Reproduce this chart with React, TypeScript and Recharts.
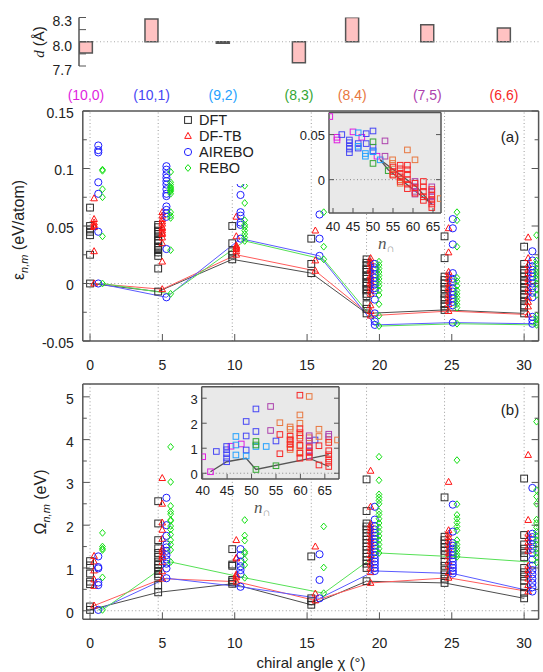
import React from "react";
import {
  ComposedChart,
  Scatter,
  Line,
  Bar,
  XAxis,
  YAxis,
  ReferenceLine,
  CartesianGrid,
  Legend,
} from "recharts";

const FONT = "'Liberation Sans', Arial, Helvetica, sans-serif";

// tubes, in order of chiral angle
const chiralities = ["(10,0)", "(10,1)", "(9,2)", "(8,3)", "(8,4)", "(7,5)", "(6,6)"];
const chiralAngles = [0, 4.71, 9.83, 15.29, 19.11, 24.5, 30];
const chiralColors = ["#e01ee0", "#4646f5", "#24a2ff", "#34a634", "#e8773f", "#ad42ad", "#f72828"];
const diameters = [7.86, 8.28, 7.98, 7.74, 8.3, 8.21, 8.17];

const methods = ["DFT", "DF-TB", "AIREBO", "REBO"];
const methodColors = ["#2b2b2b", "#ff1414", "#2020ff", "#14e014"];
const lineColors = ["#4d4d4d", "#ff5a5a", "#5a5aff", "#55e055"];
const methodShift = [0, 0.28, 0.57, 0.86];

const angleTicks = [0, 5, 10, 15, 20, 25, 30];
const epsTicks = [-0.05, -0.025, 0, 0.025, 0.05, 0.075, 0.1, 0.125, 0.15];
const omegaTicks = [0, 0.5, 1, 1.5, 2, 2.5, 3, 3.5, 4, 4.5, 5];
const dTicks = [7.7, 7.85, 8, 8.15, 8.3];
const dLabels = [7.7, 8, 8.3];
const nTicks = [40, 45, 50, 55, 60, 65];
const insetEpsTicks = [0, 0.05];
const insetOmegaTicks = [0, 1, 2, 3];

// (a) energies per tube, eV/atom
const epsDFT = [
  [0.066, 0.05, 0.047, 0.045, 0.042, 0.025, 0.0],
  [0.051, 0.049, 0.046, 0.045, 0.043, 0.041, 0.038, 0.037, 0.035, 0.032, 0.031, 0.029, 0.027, 0.024, 0.013, -0.007],
  [0.05, 0.035, 0.028, 0.025, 0.021],
  [0.039, 0.017, 0.009],
  [0.021, 0.018, 0.016, 0.013, 0.012, 0.01, 0.007, 0.006, 0.004, 0.001, 0.0, -0.002, -0.005, -0.006, -0.009, -0.011, -0.018, -0.022, -0.026],
  [0.041, 0.022, 0.006, 0.003, 0.0, -0.003, -0.005, -0.009, -0.012, -0.014, -0.018, -0.02, -0.023],
  [0.032, 0.017, 0.012, 0.009, 0.006, 0.002, 0.0, -0.003, -0.006, -0.01, -0.012, -0.015, -0.019, -0.021, -0.026],
];
const epsDFTB = [
  [0.074, 0.056, 0.053, 0.051, 0.05, 0.049, 0.028, 0.0],
  [0.062, 0.059, 0.056, 0.054, 0.052, 0.049, 0.048, 0.046, 0.044, 0.043, 0.04, 0.035, 0.019, -0.005],
  [0.058, 0.041, 0.033, 0.032, 0.031, 0.03, 0.028, 0.025],
  [0.046, 0.02, 0.011],
  [0.022, 0.019, 0.017, 0.013, 0.011, 0.007, 0.005, 0.002, 0.0, -0.003, -0.006, -0.009, -0.019, -0.024, -0.028],
  [0.048, 0.027, 0.01, 0.007, 0.004, 0.0, -0.003, -0.005, -0.009, -0.012, -0.015, -0.018, -0.024],
  [0.04, 0.022, 0.016, 0.012, 0.009, 0.004, 0.001, -0.004, -0.007, -0.012, -0.016, -0.02, -0.027],
];
const epsAIREBO = [
  [0.12, 0.116, 0.114, 0.088, 0.078, 0.045, 0.0],
  [0.102, 0.099, 0.095, 0.092, 0.089, 0.086, 0.082, 0.078, 0.076, 0.067, 0.064, 0.061, 0.058, 0.03, -0.012],
  [0.087, 0.077, 0.062, 0.059, 0.053, 0.051, 0.039],
  [0.06, 0.039, 0.024],
  [0.017, 0.014, 0.012, 0.008, 0.005, 0.002, -0.001, -0.004, -0.006, -0.014, -0.026, -0.033, -0.036],
  [0.056, 0.048, 0.034, 0.009, 0.004, 0.001, -0.004, -0.007, -0.01, -0.013, -0.016, -0.019, -0.034],
  [0.028, 0.02, 0.015, 0.012, 0.009, 0.006, 0.003, 0.0, -0.004, -0.008, -0.012, -0.029, -0.032, -0.035],
];
const epsREBO = [
  [0.099, 0.098, 0.082, 0.075, 0.041, 0.0],
  [0.097, 0.088, 0.086, 0.084, 0.083, 0.082, 0.081, 0.08, 0.078, 0.062, 0.059, 0.057, 0.029, -0.009],
  [0.085, 0.07, 0.055, 0.051, 0.049, 0.046, 0.043, 0.04, 0.037],
  [0.062, 0.032, 0.021],
  [0.019, 0.016, 0.013, 0.01, 0.007, 0.004, 0.001, -0.002, -0.006, -0.01, -0.018, -0.028, -0.037],
  [0.062, 0.055, 0.032, 0.005, 0.002, -0.002, -0.006, -0.009, -0.012, -0.015, -0.018, -0.021, -0.035],
  [0.042, 0.02, 0.017, 0.013, 0.01, 0.007, 0.004, 0.0, -0.005, -0.01, -0.028, -0.031, -0.034, -0.036],
];

// (b) Omega per tube, eV
const omDFT = [
  [1.16, 1.06, 0.87, 0.68, 0.62, 0.1, 0.02],
  [2.56, 2.04, 1.65, 1.46, 1.35, 1.26, 1.15, 1.07, 1.0, 0.93, 0.86, 0.8, 0.6, 0.43],
  [1.44, 1.08, 1.05, 0.72, 0.68, 0.63],
  [1.27, 0.29, 0.22, 0.14],
  [3.07, 2.33, 2.04, 1.97, 1.9, 1.82, 1.74, 1.66, 1.58, 1.5, 1.42, 1.34, 1.26, 1.18, 1.1, 1.0, 0.69],
  [2.65, 1.73, 1.65, 1.57, 1.48, 1.4, 1.3, 1.15, 1.05, 0.95, 0.85, 0.75, 0.65],
  [3.09, 1.77, 1.55, 1.45, 1.35, 1.25, 1.0, 0.9, 0.8, 0.7, 0.55, 0.42, 0.29],
];
const omDFTB = [
  [1.28, 1.15, 0.94, 0.73, 0.58, 0.12],
  [3.1, 2.5, 2.06, 1.89, 1.68, 1.45, 1.38, 1.3, 1.25, 1.14, 0.92, 0.75],
  [1.65, 1.24, 1.22, 0.85, 0.82, 0.78, 0.68],
  [1.5, 0.4, 0.24],
  [3.27, 2.43, 2.02, 1.95, 1.88, 1.8, 1.7, 1.62, 1.55, 1.48, 1.4, 1.3, 1.2, 1.1, 1.0, 0.9, 0.65],
  [3.01, 1.88, 1.8, 1.72, 1.64, 1.55, 1.45, 1.35, 1.27, 1.15, 1.05, 0.9, 0.77],
  [3.64, 2.12, 1.8, 1.7, 1.6, 1.5, 1.4, 1.05, 0.95, 0.85, 0.75, 0.6, 0.45],
];
const omAIREBO = [
  [1.27, 1.02, 0.99, 0.66, 0.6, 0.02],
  [2.64, 2.0, 1.75, 1.55, 1.48, 1.4, 1.3, 1.2, 1.1, 0.99, 0.76],
  [1.44, 1.3, 1.15, 1.04, 0.95, 0.86, 0.56],
  [1.32, 0.72, 0.29],
  [2.43, 2.13, 1.98, 1.9, 1.82, 1.75, 1.68, 1.6, 1.52, 1.45, 1.38, 1.3, 1.22, 1.15, 1.08, 1.0, 0.93],
  [2.48, 1.85, 1.58, 1.52, 1.45, 1.38, 1.3, 1.22, 1.15, 1.07, 1.0, 0.93, 0.87],
  [2.87, 1.8, 1.72, 1.65, 1.55, 1.45, 1.35, 1.2, 1.05, 0.95, 0.85, 0.75, 0.65, 0.55, 0.45],
];
const omREBO = [
  [1.82, 1.5, 1.45, 1.42, 0.78, 0.02],
  [3.83, 3.01, 2.45, 2.32, 2.26, 2.12, 2.1, 1.98, 1.9, 1.78, 1.65, 1.55, 1.42, 1.14],
  [2.12, 1.76, 1.64, 1.38, 1.34, 1.2, 1.07, 0.77],
  [1.97, 1.01, 0.41],
  [3.6, 3.05, 2.72, 2.65, 2.58, 2.5, 2.32, 2.25, 2.15, 2.05, 1.95, 1.85, 1.75, 1.65, 1.55, 1.45, 1.35],
  [3.52, 2.49, 2.24, 2.15, 2.06, 1.97, 1.88, 1.65, 1.55, 1.47, 1.4, 1.32, 1.26],
  [4.42, 2.82, 2.67, 2.5, 2.13, 2.05, 1.95, 1.85, 1.75, 1.65, 1.55, 1.45, 1.35, 1.25, 1.13],
];

// insets: [n, value] per tube, same order as chiralities
const insetEps: [number, number][][] = [
  [[39.2, 0.07], [41, 0.047], [41, 0.044], [45, 0.053], [47.2, 0.047], [51, 0.026]],
  [[42.2, 0.05], [44.1, 0.044], [44.1, 0.041], [44.1, 0.037], [44.1, 0.034], [44.1, 0.03], [46.3, 0.04], [46.3, 0.035], [48.3, 0.051], [48.3, 0.04], [50, 0.054], [50, 0.036], [50, 0.032]],
  [[46.3, 0.052], [46.3, 0.037], [48.1, 0.029], [48.1, 0.026], [50, 0.031], [51.8, 0.022]],
  [[50, 0.042], [50, 0.018], [53.8, 0.01]],
  [[54.9, 0.022], [54.9, 0.018], [54.9, 0.006], [56.8, 0.0], [56.8, -0.004], [58.6, 0.033], [60.5, 0.022], [66.8, -0.021]],
  [[53, 0.043], [53, 0.026], [60.5, -0.002], [60.5, -0.008], [60.5, -0.013], [60.5, -0.016], [64.7, -0.008], [64.7, -0.013], [64.7, -0.019], [64.7, -0.024]],
  [[55, 0.014], [55, 0.009], [55, 0.005], [56.8, 0.016], [56.8, 0.012], [56.8, 0.007], [56.8, 0.003], [56.8, -0.002], [58.6, 0.016], [58.6, 0.011], [58.6, 0.006], [58.6, 0.0], [58.6, -0.005], [58.6, -0.01], [60.5, -0.004], [60.5, -0.009], [60.5, -0.015], [62.6, -0.002], [62.6, -0.008], [62.6, -0.013], [62.6, -0.019], [62.6, -0.023], [64.7, -0.011], [64.7, -0.017], [64.7, -0.022], [64.7, -0.027], [64.7, -0.031]],
];
const insetEpsUpper: [number, number][] = [[51.8, 0.022], [60.9, -0.008], [64.7, -0.027]];
const insetEpsLower: [number, number][] = [[51.8, 0.022], [53.8, 0.011], [64.7, -0.027]];

const insetOmega: [number, number][][] = [
  [[40, 0.66], [41.6, 0.06], [45.8, 1.08], [47.9, 1.17]],
  [[42.8, 0.87], [44.9, 1.07], [44.9, 0.94], [44.9, 0.78], [44.9, 0.61], [44.9, 0.46], [48.9, 2.07], [48.9, 1.49], [48.9, 0.93], [50.9, 2.57], [50.9, 1.67], [55, 1.29], [63, 1.33]],
  [[46.8, 1.47], [46.8, 1.13], [46.8, 0.73], [48.9, 0.69], [50.9, 1.07], [53, 1.07]],
  [[50.9, 1.27], [50.9, 1.13], [50.9, 0.15], [55, 0.3]],
  [[55.8, 2.02], [57.9, 1.85], [57.9, 1.76], [57.9, 1.35], [57.9, 1.15], [57.9, 0.95], [59.9, 2.33], [59.9, 2.0], [59.9, 1.5], [59.9, 1.1], [59.9, 0.86], [61.8, 3.07], [61.8, 1.42], [61.8, 1.28], [63.8, 1.76], [63.8, 1.47], [65.8, 1.35], [67.6, 1.33]],
  [[53.9, 2.67], [53.9, 1.71], [61.8, 1.5], [61.8, 1.3], [61.8, 1.1], [61.8, 0.9], [61.8, 0.7], [65.8, 1.56], [65.8, 1.47]],
  [[55.8, 1.55], [55.8, 0.78], [57.9, 1.48], [57.9, 1.32], [57.9, 1.17], [57.9, 1.03], [59.9, 3.12], [59.9, 1.78], [59.9, 1.62], [59.9, 1.4], [59.9, 1.12], [59.9, 0.8], [59.9, 0.6], [61.8, 1.02], [61.8, 0.83], [61.8, 0.64], [63.8, 1.1], [63.8, 0.33], [65.8, 1.23], [65.8, 0.9], [65.8, 0.74], [65.8, 0.57], [65.8, 0.44], [65.8, 0.27]],
];
const insetOmegaMain: [number, number][] = [[41.6, 0.06], [44.9, 0.46], [48.9, 0.6], [50.9, 0.15], [65.8, 0.74]];
const insetOmegaBranch: [number, number][] = [[61.8, 0.6], [65.8, 0.27]];

const AXIS_LINE = { stroke: "#555", strokeWidth: 1.5 };
const DOTTED = { stroke: "#9c9c9c", strokeDasharray: "1 2.5", strokeWidth: 1 };

const near = (a: number, b: number) => Math.abs(a - b) < 1e-6;
const onStep = (step: number) => (v: number) => near(v / step, Math.round(v / step));

function points(sets: number[][], m: number) {
  return sets.flatMap((vals, i) => vals.map((y) => ({ x: chiralAngles[i] + methodShift[m], y })));
}

// the lines join the lowest value of each tube
function minima(sets: number[][], m: number) {
  return sets.map((vals, i) => ({ x: chiralAngles[i] + methodShift[m], y: Math.min(...vals) }));
}

const asXY = (pts: [number, number][]) => pts.map(([x, y]) => ({ x, y }));

type Side = "left" | "right" | "top" | "bottom";
interface TickOpts {
  len?: (v: number) => number;
  label?: (v: number) => string | null;
  gap?: number;
  shift?: number;
  fontSize?: number;
}

// gnuplot style: ticks point into the frame
function tickRenderer(side: Side, o: TickOpts = {}) {
  const fs = o.fontSize ?? 14;
  const gap = o.gap ?? 9;
  return (p: any) => {
    const v = Number(p.payload.value);
    const len = o.len ? o.len(v) : 7;
    const { x, y } = p;
    let x2 = x;
    let y2 = y;
    if (side === "left") x2 = x + len;
    if (side === "right") x2 = x - len;
    if (side === "top") y2 = y + len;
    if (side === "bottom") y2 = y - len;
    const text = o.label ? o.label(v) : null;
    let tx = x;
    let ty = y;
    let anchor: "end" | "middle" = "middle";
    if (side === "left") {
      tx = x - gap;
      ty = y + (o.shift ?? 0) + fs * 0.35;
      anchor = "end";
    }
    if (side === "bottom") ty = y + gap + fs * 0.35;
    return (
      <g>
        <line x1={x} y1={y} x2={x2} y2={y2} stroke="#555" strokeWidth={1} />
        {text !== null && (
          <text x={tx} y={ty} textAnchor={anchor} fontSize={fs} fill="#222" fontFamily={FONT}>
            {text}
          </text>
        )}
      </g>
    );
  };
}

function Marker({ kind, cx, cy }: { kind: number; cx: number; cy: number }) {
  const c = methodColors[kind];
  if (kind === 0)
    return <rect x={cx - 3.4} y={cy - 3.4} width={6.8} height={6.8} fill="none" stroke={c} strokeWidth={1} />;
  if (kind === 1)
    return (
      <polygon
        points={`${cx},${cy - 3.6} ${cx + 3.3},${cy + 2.4} ${cx - 3.3},${cy + 2.4}`}
        fill="none"
        stroke={c}
        strokeWidth={1}
      />
    );
  if (kind === 2) return <circle cx={cx} cy={cy} r={3.6} fill="none" stroke={c} strokeWidth={1} />;
  return (
    <polygon
      points={`${cx},${cy - 3.4} ${cx + 2.9},${cy} ${cx},${cy + 3.4} ${cx - 2.9},${cy}`}
      fill="none"
      stroke={c}
      strokeWidth={1}
    />
  );
}

const markerShape = (m: number) => (p: any) => <Marker kind={m} cx={p.cx} cy={p.cy} />;

const squareShape = (color: string) => (p: any) =>
  <rect x={p.cx - 2.8} y={p.cy - 2.8} width={5.6} height={5.6} fill="none" stroke={color} strokeWidth={1} />;

function MethodLegend() {
  return (
    <svg width={76} height={72} style={{ display: "block" }}>
      {methods.map((m, i) => (
        <g key={m}>
          <Marker kind={i} cx={6} cy={8 + i * 16} />
          <text x={17} y={13 + i * 16} fontSize={14.5} fill="#222" fontFamily={FONT}>
            {m}
          </text>
        </g>
      ))}
    </svg>
  );
}

function ChiralityTick(p: any) {
  const i = chiralAngles.findIndex((a) => near(a, Number(p.payload.value)));
  return (
    <text x={p.x} y={p.y + 34} textAnchor="middle" fontSize={14} fill={chiralColors[i]} fontFamily={FONT}>
      {chiralities[i]}
    </text>
  );
}

const dRows = chiralAngles.map((angle, i) => ({ angle, d: diameters[i] }));

function DiameterChart() {
  return (
    <div style={{ position: "absolute", left: 0, top: 0, width: 543, height: 110 }}>
      <ComposedChart width={543} height={110} data={dRows} margin={{ top: 17.5, right: 4.2, bottom: 0, left: 0 }}>
        <XAxis
          dataKey="angle"
          type="number"
          domain={[-0.5, 32.5]}
          allowDataOverflow
          ticks={chiralAngles}
          interval={0}
          height={44}
          tickSize={0}
          tickMargin={0}
          axisLine={false}
          tickLine={false}
          tick={ChiralityTick}
        />
        <YAxis
          type="number"
          domain={[7.7, 8.3]}
          allowDataOverflow
          ticks={dTicks}
          interval={0}
          width={79}
          tickSize={0}
          tickMargin={0}
          tickLine={false}
          axisLine={AXIS_LINE}
          tick={tickRenderer("left", {
            gap: 7,
            shift: 4,
            label: (v) => (dLabels.some((t) => near(t, v)) ? v.toFixed(1) : null),
          })}
        />
        <ReferenceLine y={8} {...DOTTED} stroke="#aaa" />
        <Bar
          dataKey={(r: any) => [Math.min(8, r.d), Math.max(8, r.d)]}
          barSize={13}
          fill="#ffc2c2"
          stroke="#555"
          strokeWidth={1.5}
          isAnimationActive={false}
        />
      </ComposedChart>
    </div>
  );
}

interface PanelProps {
  top: number;
  height: number;
  padTop: number;
  padBottom: number;
  yDomain: [number, number];
  yTicks: number[];
  yMajor: (v: number) => boolean;
  sets: number[][][];
  children?: React.ReactNode;
}

const X_DOMAIN: [number, number] = [-0.5, 31];

function Panel({ top, height, padTop, padBottom, yDomain, yTicks, yMajor, sets, children }: PanelProps) {
  const yLen = (v: number) => (yMajor(v) ? 7 : 4);
  return (
    <div style={{ position: "absolute", left: 0, top, width: 543, height }}>
      <ComposedChart width={543} height={height} margin={{ top: 0, right: 0, bottom: 0, left: 0 }}>
        <XAxis
          dataKey="x"
          type="number"
          domain={X_DOMAIN}
          allowDataOverflow
          ticks={angleTicks}
          interval={0}
          height={padBottom}
          tickSize={0}
          tickMargin={0}
          tickLine={false}
          axisLine={AXIS_LINE}
          tick={tickRenderer("bottom", { gap: 24, label: (v) => String(v) })}
        />
        <XAxis
          xAxisId="top"
          orientation="top"
          type="number"
          domain={X_DOMAIN}
          allowDataOverflow
          ticks={angleTicks}
          interval={0}
          height={padTop}
          tickSize={0}
          tickMargin={0}
          tickLine={false}
          axisLine={AXIS_LINE}
          tick={tickRenderer("top")}
        />
        <YAxis
          dataKey="y"
          type="number"
          domain={yDomain}
          allowDataOverflow
          ticks={yTicks}
          interval={0}
          width={82.8}
          tickSize={0}
          tickMargin={0}
          tickLine={false}
          axisLine={AXIS_LINE}
          tick={tickRenderer("left", { len: yLen, shift: 2, label: (v) => (yMajor(v) ? String(v) : null) })}
        />
        <YAxis
          yAxisId="right"
          orientation="right"
          type="number"
          domain={yDomain}
          allowDataOverflow
          ticks={yTicks}
          interval={0}
          width={4.4}
          tickSize={0}
          tickMargin={0}
          tickLine={false}
          axisLine={AXIS_LINE}
          tick={tickRenderer("right", { len: yLen })}
        />
        {chiralAngles.map((a) => (
          <ReferenceLine key={a} x={a} {...DOTTED} />
        ))}
        <ReferenceLine y={0} {...DOTTED} />
        {methods.map((m, i) => (
          <Line
            key={"l" + m}
            data={minima(sets[i], i)}
            dataKey="y"
            type="linear"
            stroke={lineColors[i]}
            strokeWidth={1}
            dot={false}
            isAnimationActive={false}
          />
        ))}
        {methods.map((m, i) => (
          <Scatter key={"s" + m} data={points(sets[i], i)} shape={markerShape(i)} isAnimationActive={false} />
        ))}
        {children}
      </ComposedChart>
    </div>
  );
}

interface InsetProps {
  left: number;
  top: number;
  width: number;
  height: number;
  axisLeft: number;
  axisRight: number;
  axisTop: number;
  axisBottom: number;
  xDomain: [number, number];
  yDomain: [number, number];
  yTicks: number[];
  xGap: number;
  pts: [number, number][][];
  lines: [number, number][][];
}

function Inset(p: InsetProps) {
  const small = { fontSize: 13, len: () => 5 };
  return (
    <div style={{ position: "absolute", left: p.left, top: p.top, width: p.width, height: p.height }}>
      <ComposedChart width={p.width} height={p.height} margin={{ top: 0, right: 0, bottom: 0, left: 0 }}>
        <CartesianGrid fill="#e9e9e9" horizontal={false} vertical={false} stroke="none" />
        <XAxis
          dataKey="x"
          type="number"
          domain={p.xDomain}
          allowDataOverflow
          ticks={nTicks}
          interval={0}
          height={p.axisBottom}
          tickSize={0}
          tickMargin={0}
          tickLine={false}
          axisLine={AXIS_LINE}
          tick={tickRenderer("bottom", { ...small, gap: p.xGap, label: (v) => String(v) })}
        />
        <XAxis
          xAxisId="top"
          orientation="top"
          type="number"
          domain={p.xDomain}
          allowDataOverflow
          ticks={nTicks}
          interval={0}
          height={p.axisTop}
          tickSize={0}
          tickMargin={0}
          tickLine={false}
          axisLine={AXIS_LINE}
          tick={tickRenderer("top", small)}
        />
        <YAxis
          dataKey="y"
          type="number"
          domain={p.yDomain}
          allowDataOverflow
          ticks={p.yTicks}
          interval={0}
          width={p.axisLeft}
          tickSize={0}
          tickMargin={0}
          tickLine={false}
          axisLine={AXIS_LINE}
          tick={tickRenderer("left", { ...small, gap: 4, shift: 1, label: (v) => String(v) })}
        />
        <YAxis
          yAxisId="right"
          orientation="right"
          type="number"
          domain={p.yDomain}
          allowDataOverflow
          ticks={p.yTicks}
          interval={0}
          width={p.axisRight}
          tickSize={0}
          tickMargin={0}
          tickLine={false}
          axisLine={AXIS_LINE}
          tick={tickRenderer("right", small)}
        />
        <ReferenceLine y={0} {...DOTTED} stroke="#888" />
        {p.pts.map((set, i) => (
          <Scatter
            key={chiralities[i]}
            data={asXY(set)}
            shape={squareShape(chiralColors[i])}
            isAnimationActive={false}
          />
        ))}
        {p.lines.map((l, i) => (
          <Line
            key={"line" + i}
            data={asXY(l)}
            dataKey="y"
            type="linear"
            stroke="#555"
            strokeWidth={1.3}
            dot={false}
            isAnimationActive={false}
          />
        ))}
      </ComposedChart>
    </div>
  );
}

function Labels() {
  const t = { fontFamily: FONT, fill: "#222" };
  return (
    <svg
      width={543}
      height={672}
      style={{ position: "absolute", left: 0, top: 0, pointerEvents: "none" }}
    >
      <text transform="translate(44,42) rotate(-90)" textAnchor="middle" fontSize={15} {...t}>
        <tspan fontStyle="italic" fontFamily="'Liberation Serif', serif">d</tspan> (Å)
      </text>
      <text transform="translate(24,230) rotate(-90)" textAnchor="middle" fontSize={16} {...t}>
        ε
        <tspan fontSize={11} fontStyle="italic" dy={4}>
          n,m
        </tspan>
        <tspan dy={-4}> (eV/atom)</tspan>
      </text>
      <text transform="translate(46,502) rotate(-90)" textAnchor="middle" fontSize={16} {...t}>
        Ω
        <tspan fontSize={11} fontStyle="italic" dy={4}>
          n,m
        </tspan>
        <tspan dy={-4}> (eV)</tspan>
      </text>
      <text x={311} y={668} textAnchor="middle" fontSize={15} {...t}>
        chiral angle χ (°)
      </text>
      <text x={510} y={142} textAnchor="middle" fontSize={15} {...t}>
        (a)
      </text>
      <text x={510} y={415} textAnchor="middle" fontSize={15} {...t}>
        (b)
      </text>
      <text x={378} y={249} fontSize={17} fontStyle="italic" fontFamily="'Liberation Serif', serif" fill="#555">
        n<tspan fontSize={11} dy={3} fill="#999" fontStyle="normal">∩</tspan>
      </text>
      <text x={254} y={513} fontSize={17} fontStyle="italic" fontFamily="'Liberation Serif', serif" fill="#555">
        n<tspan fontSize={11} dy={3} fill="#999" fontStyle="normal">∩</tspan>
      </text>
    </svg>
  );
}

export default function App() {
  return (
    <div
      style={{
        position: "absolute",
        left: 0,
        top: 0,
        width: 543,
        height: 672,
        overflow: "hidden",
        background: "#fff",
        fontFamily: FONT,
      }}
    >
      <DiameterChart />
      <Panel
        top={100}
        height={280}
        padTop={11}
        padBottom={39}
        yDomain={[-0.05, 0.15]}
        yTicks={epsTicks}
        yMajor={onStep(0.05)}
        sets={[epsDFT, epsDFTB, epsAIREBO, epsREBO]}
      >
        <Legend
          layout="horizontal"
          verticalAlign="middle"
          wrapperStyle={{ left: 182, top: 12, width: 76, height: 72, background: "#fff" }}
          content={() => <MethodLegend />}
        />
      </Panel>
      <Inset
        left={290}
        top={105}
        width={160}
        height={150}
        axisLeft={39}
        axisRight={9}
        axisTop={7.5}
        axisBottom={42}
        xDomain={[39, 67]}
        yDomain={[-0.037, 0.0745]}
        yTicks={insetEpsTicks}
        xGap={13.5}
        pts={insetEps}
        lines={[insetEpsUpper, insetEpsLower]}
      />
      <Panel
        top={375}
        height={297}
        padTop={9}
        padBottom={52.7}
        yDomain={[-0.2, 5.3]}
        yTicks={omegaTicks}
        yMajor={onStep(1)}
        sets={[omDFT, omDFTB, omAIREBO, omREBO]}
      />
      <Inset
        left={170}
        top={380}
        width={175}
        height={140}
        axisLeft={31.7}
        axisRight={6}
        axisTop={6.7}
        axisBottom={41}
        xDomain={[39.8, 67.9]}
        yDomain={[-0.23, 3.46]}
        yTicks={insetOmegaTicks}
        xGap={11}
        pts={insetOmega}
        lines={[insetOmegaMain, insetOmegaBranch]}
      />
      <Labels />
    </div>
  );
}
